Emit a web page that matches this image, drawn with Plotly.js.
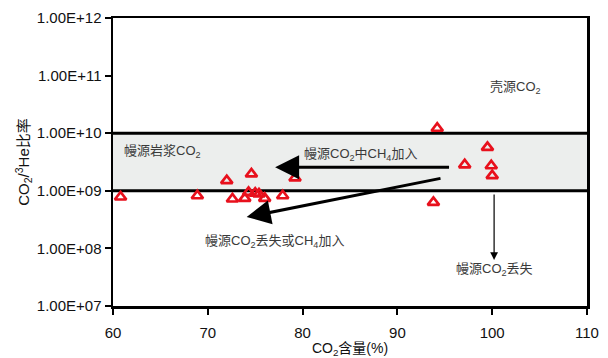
<!DOCTYPE html>
<html>
<head>
<meta charset="utf-8">
<script src="https://cdn.plot.ly/plotly-3.0.1.min.js"></script>
<style>
  html, body { margin: 0; padding: 0; background: #fff; }
  #chart { width: 608px; height: 358px; }
</style>
</head>
<body>
<div id="chart"></div>
<script>
// CO2 content (%) and CO2/3He ratio of the gas samples
const co2Content = [60.8, 68.9, 72.0, 72.6, 73.9, 74.3, 74.6, 75.0, 75.4, 76.0, 77.9, 79.2, 93.8, 94.2, 97.1, 99.5, 99.9, 100.0];
const co2HeRatio = [7.8e8, 8.2e8, 1.5e9, 7.2e8, 7.4e8, 9.4e8, 1.96e9, 9.1e8, 8.8e8, 7.4e8, 8.2e8, 1.67e9, 6.3e8, 1.22e10, 2.83e9, 5.66e9, 2.72e9, 1.83e9];

// mantle magmatic CO2 band
const mantleBand = [1e9, 1e10];

// axis ticks
const xTickVals = [60, 70, 80, 90, 100, 110];
const yTickVals = [1e7, 1e8, 1e9, 1e10, 1e11, 1e12];
const yTickText = ['1.00E+07', '1.00E+08', '1.00E+09', '1.00E+10', '1.00E+11', '1.00E+12'];

const FONT = 'Liberation Sans, Arial, Noto Sans CJK SC, sans-serif';
const LOG = Math.log10;

const trace = {
  x: co2Content,
  y: co2HeRatio,
  type: 'scatter',
  mode: 'markers',
  marker: {
    symbol: 'triangle-up-open',
    size: 10,
    color: '#e8101c',
    line: { width: 2.7, color: '#e8101c' }
  },
  hoverinfo: 'x+y'
};

const labelFont = { family: FONT, size: 13, color: '#3a3a3a' };

function label(text, x, y) {
  return { text: text, x: x, y: LOG(y), xref: 'x', yref: 'y', xanchor: 'left', yanchor: 'middle', showarrow: false, font: labelFont };
}

// arrow from (x0, y0) to (x1, y1); tiny empty label so the tail starts at its point
function arrow(x0, y0, x1, y1, width, size) {
  return {
    x: x1, y: LOG(y1), ax: x0, ay: LOG(y0),
    xref: 'x', yref: 'y', axref: 'x', ayref: 'y',
    text: '', font: { size: 1 }, borderpad: 0,
    showarrow: true, arrowhead: 2, arrowsize: size, arrowwidth: width, arrowcolor: '#000'
  };
}

const layout = {
  width: 608,
  height: 358,
  margin: { l: 113, r: 21, t: 18, b: 52 },
  paper_bgcolor: '#fff',
  plot_bgcolor: '#fff',
  showlegend: false,
  font: { family: FONT, size: 15, color: '#111' },
  xaxis: {
    range: [60, 110],
    tickvals: xTickVals,
    ticks: 'outside', ticklen: 6, tickwidth: 2, tickcolor: '#000',
    showline: true, linecolor: '#000', linewidth: 2.5, mirror: true,
    showgrid: false, zeroline: false,
    tickfont: { family: FONT, size: 15, color: '#111' },
    ticklabelstandoff: 5,
    title: { text: 'CO<sub>2</sub>含量(%)', font: { family: FONT, size: 14, color: '#111' }, standoff: 4 }
  },
  yaxis: {
    type: 'log',
    range: [7, 12],
    tickvals: yTickVals,
    ticktext: yTickText,
    ticks: 'outside', ticklen: 6, tickwidth: 2, tickcolor: '#000',
    showline: true, linecolor: '#000', linewidth: 2.5, mirror: true,
    showgrid: false, zeroline: false,
    tickfont: { family: FONT, size: 15, color: '#111' },
    title: { text: 'CO<sub>2</sub>/<sup>3</sup>He比率', font: { family: FONT, size: 15, color: '#111' }, standoff: 4 }
  },
  shapes: [
    { type: 'rect', xref: 'x', yref: 'y', x0: 60, x1: 110, y0: mantleBand[0], y1: mantleBand[1], fillcolor: '#eceeed', line: { width: 0 }, layer: 'below' },
    { type: 'line', xref: 'x', yref: 'y', x0: 60, x1: 110, y0: mantleBand[0], y1: mantleBand[0], line: { color: '#000', width: 3 }, layer: 'below' },
    { type: 'line', xref: 'x', yref: 'y', x0: 60, x1: 110, y0: mantleBand[1], y1: mantleBand[1], line: { color: '#000', width: 3 }, layer: 'below' }
  ],
  annotations: [
    label('壳源CO<sub>2</sub>', 99.6, 6.2e10),
    label('幔源岩浆CO<sub>2</sub>', 61.0, 4.9e9),
    label('幔源CO<sub>2</sub>中CH<sub>4</sub>加入', 79.9, 4.3e9),
    label('幔源CO<sub>2</sub>丢失或CH<sub>4</sub>加入', 69.5, 1.3e8),
    label('幔源CO<sub>2</sub>丢失', 96.0, 4.3e7),
    arrow(95.5, 2.57e9, 77.1, 2.57e9, 3, 1.6),
    arrow(94.6, 1.65e9, 74.1, 3.5e8, 3, 1.6),
    arrow(100.2, 8.8e8, 100.2, 6.3e7, 1.2, 1.3)
  ]
};

Plotly.newPlot('chart', [trace], layout, { displayModeBar: false, staticPlot: true });
</script>
</body>
</html>
